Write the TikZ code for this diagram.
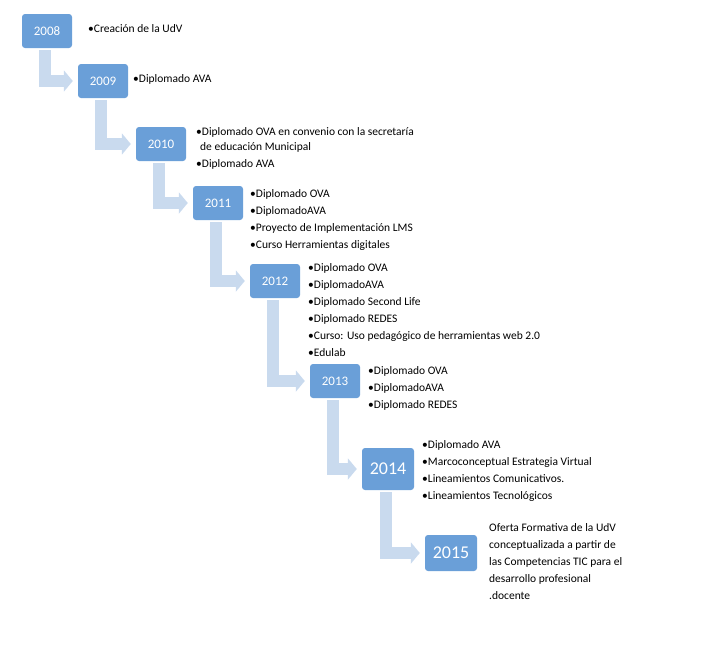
\documentclass[tikz,border=0pt]{standalone}
\usepackage{fontspec}
\setmainfont{Carlito}
\usetikzlibrary{arrows.meta,positioning}
\definecolor{yearblue}{HTML}{6A9FD8}
\definecolor{stemblue}{HTML}{C9DAEE}
\tikzset{
  year/.style={rectangle, rounded corners=3pt, fill=yearblue, text=white, minimum width=50pt, minimum height=34pt, font=\fontsize{13}{15}\selectfont},
  bigyear/.style={year, minimum width=52pt, font=\fontsize{18}{20}\selectfont},
  items/.style={anchor=north west, inner sep=0pt, align=left, font=\fontsize{11.5}{17}\selectfont},
  link/.style={stemblue, line width=12pt, -{Triangle[length=9pt,width=21pt]}, shorten >=5pt, shorten <=2pt}
}
\newcommand{\bul}{\textbullet}
\begin{document}
\begin{tikzpicture}[x=1pt, y=-1pt]
    \useasboundingbox (0,0) rectangle (715,648);
    %Year boxes
    \node (y2008) [year]    at (47,31)   {2008};
    \node (y2009) [year]    at (103,81)  {2009};
    \node (y2010) [year]    at (161,144) {2010};
    \node (y2011) [year]    at (218,203) {2011};
    \node (y2012) [year]    at (275,281) {2012};
    \node (y2013) [year]    at (335,381) {2013};
    \node (y2014) [bigyear, minimum height=42pt] at (388,469) {2014};
    \node (y2015) [bigyear, minimum height=36pt] at (451,553) {2015};

    %Items
    \node (t2008) [items] at (88,24)  {\bul Creación de la UdV};
    \node (t2009) [items] at (133,74) {\bul Diplomado AVA};
    \node (t2010) [items] at (196,127) {\bul Diplomado OVA en convenio con la secretaría\\[-2pt]
        \hspace{4pt}de educación Municipal\\ \bul Diplomado AVA};
    \node (t2011) [items] at (250,189) {\bul Diplomado OVA\\ \bul DiplomadoAVA\\
        \bul Proyecto de Implementación LMS\\ \bul Curso Herramientas digitales};
    \node (t2012) [items] at (308,263) {\bul Diplomado OVA\\ \bul DiplomadoAVA\\
        \bul Diplomado Second Life\\ \bul Diplomado REDES\\
        \bul Curso: Uso pedagógico de herramientas web 2.0\\ \bul Edulab};
    \node (t2013) [items] at (368,366) {\bul Diplomado OVA\\ \bul DiplomadoAVA\\ \bul Diplomado REDES};
    \node (t2014) [items] at (422,440) {\bul Diplomado AVA\\ \bul Marcoconceptual Estrategia Virtual\\
        \bul Lineamientos Comunicativos.\\ \bul Lineamientos Tecnológicos};
    \node (t2015) [items] at (489,523) {Oferta Formativa de la UdV\\ conceptualizada a partir de\\
        las Competencias TIC para el\\ desarrollo profesional\\ .docente};

    %Links
    \draw[link] ([xshift=-2pt]y2008.south) |- (y2009.west);
    \draw[link] ([xshift=-2pt]y2009.south) |- (y2010.west);
    \draw[link] ([xshift=-2pt]y2010.south) |- (y2011.west);
    \draw[link] ([xshift=-2pt]y2011.south) |- (y2012.west);
    \draw[link] ([xshift=-2pt]y2012.south) |- (y2013.west);
    \draw[link] ([xshift=-2pt]y2013.south) |- (y2014.west);
    \draw[link] ([xshift=-2pt]y2014.south) |- (y2015.west);
\end{tikzpicture}
\end{document}
